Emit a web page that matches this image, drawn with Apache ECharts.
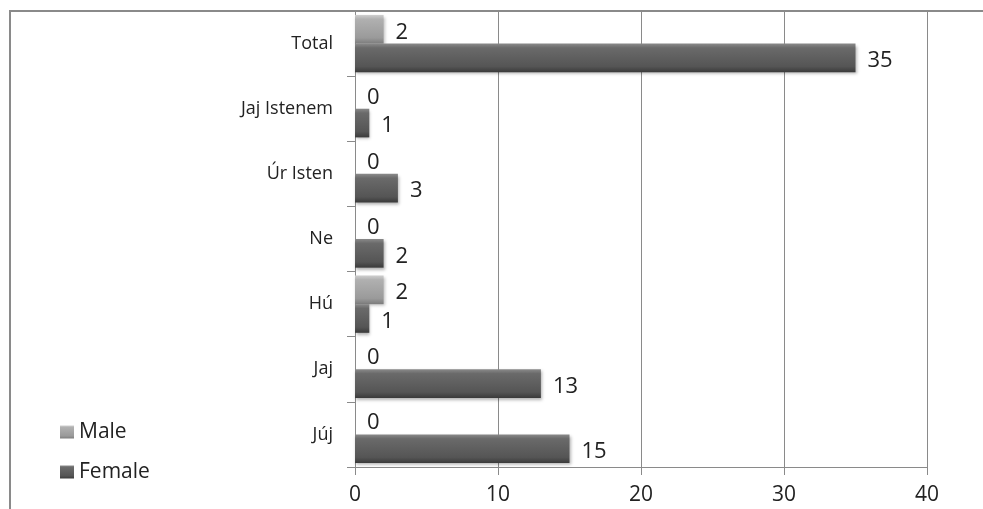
<!DOCTYPE html>
<html>
<head>
<meta charset="utf-8">
<script src="https://cdn.jsdelivr.net/npm/echarts@6/dist/echarts.min.js"></script>
<style>html,body{margin:0;padding:0;background:#fff}#c{width:983px;height:509px}</style>
</head>
<body>
<div id="c"></div>
<script>
var categories = ['Júj', 'Jaj', 'Hú', 'Ne', 'Úr Isten', 'Jaj Istenem', 'Total'];
var maleValues = [0, 0, 2, 0, 0, 0, 2];
var femaleValues = [15, 13, 1, 2, 3, 1, 35];
var xTicks = [0, 10, 20, 30, 40];

var FONT = '"Open Sans", sans-serif';
function grad(c1, c2, c3, c4) {
  return new echarts.graphic.LinearGradient(0, 0, 0, 1, [
    {offset: 0, color: c1}, {offset: 0.15, color: c2},
    {offset: 0.8, color: c3}, {offset: 1, color: c4}
  ]);
}
var chart = echarts.init(document.getElementById('c'), null, {renderer: 'canvas'});
var labelCfg = {
  show: true, position: 'right', distance: 12, offset: [0, 3],
  fontFamily: FONT, fontSize: 22, color: '#222'
};
chart.setOption({
  backgroundColor: '#fff',
  animation: false,
  graphic: [{
    type: 'rect', z: -1, silent: true,
    shape: {x: 10, y: 11, width: 1200, height: 800},
    style: {fill: 'none', stroke: '#8a8a8a', lineWidth: 2}
  }],
  legend: {
    orient: 'vertical', left: 55, top: 415,
    data: ['Male', 'Female'],
    icon: 'rect', itemWidth: 14, itemHeight: 13, itemGap: 16,
    textStyle: {fontFamily: FONT, fontSize: 21, color: '#222', lineHeight: 24}
  },
  grid: {left: 355, right: 56, top: 11, bottom: 42, containLabel: false},
  xAxis: {
    type: 'value', min: xTicks[0], max: xTicks[xTicks.length - 1], interval: 10,
    axisLine: {show: true, lineStyle: {color: '#8a8a8a', width: 1}},
    axisTick: {show: true, length: 8, lineStyle: {color: '#8a8a8a'}},
    axisLabel: {fontFamily: FONT, fontSize: 21, color: '#222', margin: 18},
    splitLine: {show: true, lineStyle: {color: '#8a8a8a', width: 1}}
  },
  yAxis: {
    type: 'category', data: categories,
    axisLine: {show: true, lineStyle: {color: '#8a8a8a', width: 1}},
    axisTick: {show: true, length: 8, lineStyle: {color: '#8a8a8a'}},
    axisLabel: {fontFamily: FONT, fontSize: 18, color: '#222', margin: 22}
  },
  series: [
    {
      name: 'Male', type: 'bar', data: maleValues,
      barCategoryGap: '12%', barGap: '0%',
      itemStyle: {
        color: grad('#cfcfcf', '#b0b0b0', '#9a9a9a', '#7c7c7c'),
        borderWidth: 0,
        shadowColor: 'rgba(0,0,0,0.25)', shadowBlur: 3, shadowOffsetX: 1, shadowOffsetY: 2
      },
      label: labelCfg
    },
    {
      name: 'Female', type: 'bar', data: femaleValues,
      barCategoryGap: '12%', barGap: '0%',
      itemStyle: {
        color: grad('#8a8a8a', '#6a6a6a', '#555555', '#3a3a3a'),
        borderWidth: 0,
        shadowColor: 'rgba(0,0,0,0.3)', shadowBlur: 3, shadowOffsetX: 1, shadowOffsetY: 2
      },
      label: labelCfg
    }
  ]
});
</script>
</body>
</html>
